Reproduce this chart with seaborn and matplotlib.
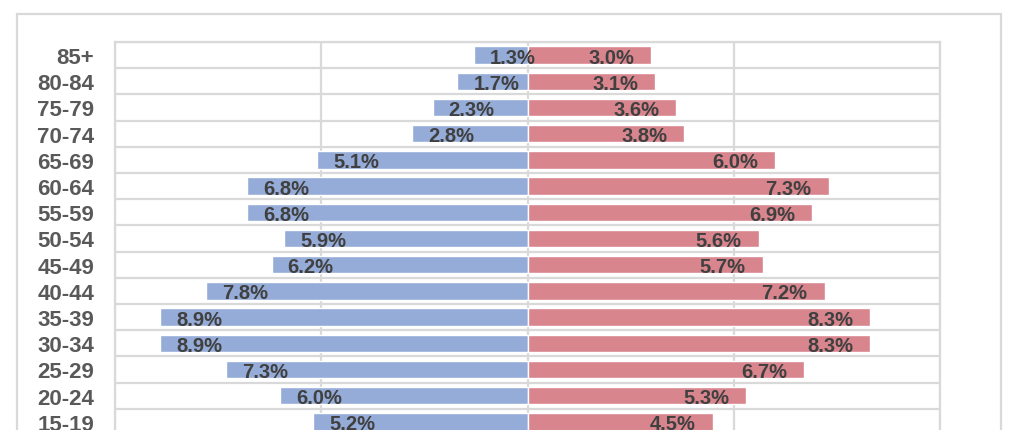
import seaborn as sns
import matplotlib.pyplot as plt
import pandas as pd
import numpy as np
from matplotlib.patches import Rectangle

# age groups, top to bottom (the rows below 15-19 are cut off in the picture)
ages = ["85+", "80-84", "75-79", "70-74", "65-69", "60-64", "55-59", "50-54",
        "45-49", "40-44", "35-39", "30-34", "25-29", "20-24", "15-19"]
male = [1.3, 1.7, 2.3, 2.8, 5.1, 6.8, 6.8, 5.9, 6.2, 7.8, 8.9, 8.9, 7.3, 6.0, 5.2]
female = [3.0, 3.1, 3.6, 3.8, 6.0, 7.3, 6.9, 5.6, 5.7, 7.2, 8.3, 8.3, 6.7, 5.3, 4.5]
n_rows = 18  # full pyramid has 18 groups, only 15 visible

df = pd.DataFrame({"age": ages, "male": [-v for v in male], "female": female})

sns.set_style("white")
plt.rcParams["font.family"] = ["Liberation Sans", "DejaVu Sans"]

fig = plt.figure(figsize=(10.23, 4.31), dpi=100)
W, H = 1023, 431
grid_c = "#D9D9D9"

# outer chart border (runs off the bottom of the picture)
fig.patches.append(Rectangle((17 / W, -0.5), (1001 - 17) / W, 0.5 + 1 - 15 / H,
                             transform=fig.transFigure, fill=False,
                             edgecolor=grid_c, linewidth=1.6, zorder=0))

row_h = 26.2
top = 1 - 43 / H
height = n_rows * row_h / H
ax = fig.add_axes([115 / W, top - height, (940 - 115) / W, height])

sns.barplot(data=df, x="male", y="age", order=ages, orient="h",
            color="#95ACD8", width=0.67, saturation=1, ax=ax)
sns.barplot(data=df, x="female", y="age", order=ages, orient="h",
            color="#D9858E", width=0.67, saturation=1, ax=ax)

ax.set_xlim(-10, 10)
ax.set_ylim(n_rows - 0.5, -0.5)
ax.set_xticks([-10, -5, 0, 5, 10])
ax.set_xticklabels([])
ax.set_yticks(np.arange(-0.5, n_rows, 1), minor=True)
ax.grid(which="minor", axis="y", color=grid_c, linewidth=1.6)
ax.grid(which="major", axis="x", color=grid_c, linewidth=1.6)
ax.grid(which="major", axis="y", visible=False)
ax.set_axisbelow(True)
ax.tick_params(axis="both", which="both", length=0)
ax.tick_params(axis="y", pad=15, labelsize=16, labelcolor="#595959")
for lab in ax.get_yticklabels():
    lab.set_fontweight("bold")
for s in ax.spines.values():
    s.set_color(grid_c)
    s.set_linewidth(1.6)
ax.set_xlabel("")
ax.set_ylabel("")

# value labels just inside the outer end of each bar
for i, (m, f) in enumerate(zip(male, female)):
    ax.annotate(f"{m:.1f}%", (-m, i), xytext=(16, -2), textcoords="offset pixels",
                ha="left", va="center", fontsize=14.5, fontweight="bold",
                color="#404040")
    ax.annotate(f"{f:.1f}%", (f, i), xytext=(-17, -2), textcoords="offset pixels",
                ha="right", va="center", fontsize=14.5, fontweight="bold",
                color="#404040")

fig.savefig("out.png", dpi=100)
